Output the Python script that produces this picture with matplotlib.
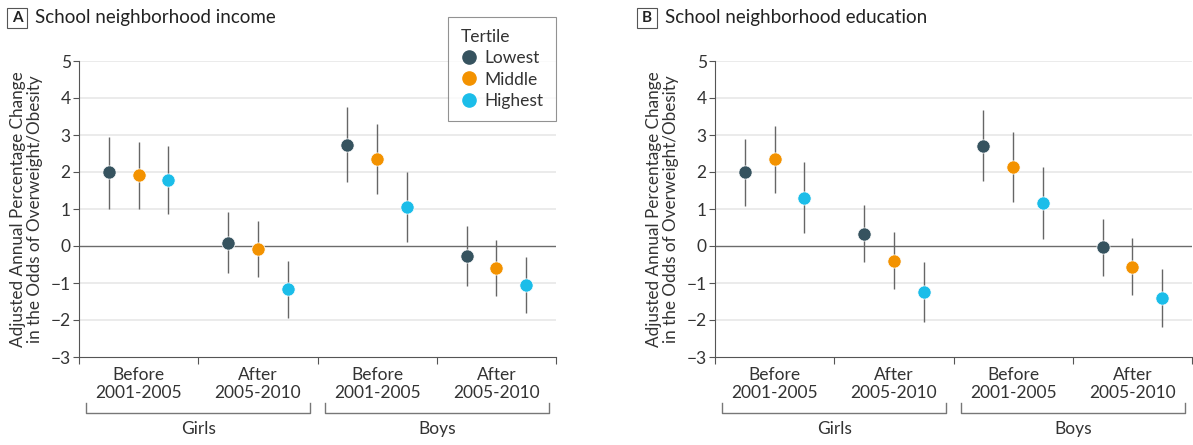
import numpy as np
import matplotlib.pyplot as plt
from matplotlib.lines import Line2D
from matplotlib.patches import Rectangle

plt.rcParams['font.family'] = ['Lato', 'DejaVu Sans']

# groups: Girls before, Girls after, Boys before, Boys after
groups = ['Before\n2001-2005', 'After\n2005-2010', 'Before\n2001-2005', 'After\n2005-2010']
sexes = ['Girls', 'Boys']
tertiles = ['Lowest', 'Middle', 'Highest']
colors = ['#36535f', '#f39200', '#1bbde9']

# Panel A: school neighborhood income
inc_est = {'Lowest': [2.00, 0.08, 2.74, -0.27],
           'Middle': [1.91, -0.09, 2.35, -0.59],
           'Highest': [1.78, -1.15, 1.06, -1.05]}
inc_lo = {'Lowest': [1.00, -0.72, 1.74, -1.07],
          'Middle': [1.00, -0.85, 1.41, -1.34],
          'Highest': [0.86, -1.94, 0.12, -1.80]}
inc_hi = {'Lowest': [2.94, 0.91, 3.75, 0.54],
          'Middle': [2.80, 0.68, 3.29, 0.16],
          'Highest': [2.70, -0.41, 2.00, -0.31]}

# Panel B: school neighborhood education
edu_est = {'Lowest': [2.00, 0.32, 2.70, -0.04],
           'Middle': [2.34, -0.40, 2.13, -0.58],
           'Highest': [1.31, -1.25, 1.15, -1.40]}
edu_lo = {'Lowest': [1.09, -0.42, 1.76, -0.80],
          'Middle': [1.44, -1.17, 1.19, -1.32],
          'Highest': [0.36, -2.05, 0.20, -2.18]}
edu_hi = {'Lowest': [2.89, 1.10, 3.68, 0.72],
          'Middle': [3.24, 0.37, 3.08, 0.21],
          'Highest': [2.26, -0.44, 2.13, -0.63]}

fig = plt.figure(figsize=(11.93, 4.45), dpi=100)
W, H = 1193, 445
txt = '#333333'

def draw_panel(left_px, est, lo, hi):
    ax = fig.add_axes([left_px / W, (H - 357) / H, 477 / W, 296 / H])
    ax.set_xlim(0, 4)
    ax.set_ylim(-3, 5)
    for y in range(-2, 6):
        if y == 0:
            ax.axhline(0, color='#6b6b6b', lw=1.0, zorder=1)
        else:
            ax.axhline(y, color='#ebebeb', lw=1.4, zorder=0)
    offsets = [-0.25, 0, 0.25]
    x = np.arange(4) + 0.5
    for i, t in enumerate(tertiles):
        xs = x + offsets[i]
        ax.vlines(xs, lo[t], hi[t], color='#666666', lw=1.0, zorder=2)
        ax.plot(xs, est[t], 'o', color=colors[i], ms=9.5, mec='white', mew=0.5, zorder=3)
    for s in ['top', 'right']:
        ax.spines[s].set_visible(False)
    ax.spines['left'].set_color('#555555')
    ax.spines['bottom'].set_color('#555555')
    ax.set_yticks(range(-3, 6))
    ax.tick_params(axis='y', length=4, color='#555555', labelsize=12.5, labelcolor=txt, pad=2)
    ax.set_xticks([0, 1, 2, 3, 4])
    ax.set_xticklabels([])
    ax.tick_params(axis='x', length=5, color='#555555', direction='out')
    for k, g in enumerate(groups):
        ax.text(k + 0.5, -3.27, g, ha='center', va='top', fontsize=12.5,
                color=txt, linespacing=1.15)
    # brackets for Girls / Boys
    for j, s in enumerate(sexes):
        x0 = 2 * j + 0.06
        x1 = 2 * j + 1.94
        ax.plot([x0, x0, x1, x1], [-4.25, -4.5, -4.5, -4.25], color='#777777',
                lw=1.0, clip_on=False)
        ax.text(2 * j + 1, -4.72, s, ha='center', va='top', fontsize=12.5, color=txt)
    ax.set_ylabel('Adjusted Annual Percentage Change\nin the Odds of Overweight/Obesity',
                  fontsize=12.3, color=txt, labelpad=5, linespacing=1.08)
    return ax

axA = draw_panel(79, inc_est, inc_lo, inc_hi)
axB = draw_panel(715, edu_est, edu_lo, edu_hi)

# panel headers
for lx, letter, title in [(7, 'A', 'School neighborhood income'),
                           (637, 'B', 'School neighborhood education')]:
    fig.patches.append(Rectangle((lx / W, (H - 28) / H), 20 / W, 20 / H,
                                 transform=fig.transFigure, fill=False,
                                 ec='#555555', lw=0.8))
    fig.text((lx + 10) / W, (H - 18) / H, letter, ha='center', va='center',
             fontsize=11, fontweight='bold', color='#222222')
    fig.text((lx + 28) / W, (H - 18) / H, title, ha='left', va='center',
             fontsize=13.5, color='#222222')

# legend
handles = [Line2D([], [], marker='o', ls='', color=c, ms=9.5) for c in colors]
leg = fig.legend(handles, tertiles, title='Tertile', loc='upper right',
                 bbox_to_anchor=(556 / W, (H - 17) / H), frameon=True, fancybox=False,
                 fontsize=12.5, title_fontsize=12.5, handletextpad=0.4,
                 borderpad=0.7, labelspacing=0.3, handlelength=1.0, borderaxespad=0)
leg.get_frame().set_edgecolor('#777777')
leg.get_frame().set_linewidth(0.8)
leg._legend_box.align = 'left'
for t in leg.get_texts():
    t.set_color(txt)
leg.get_title().set_color(txt)

fig.savefig('out.png', dpi=100)
